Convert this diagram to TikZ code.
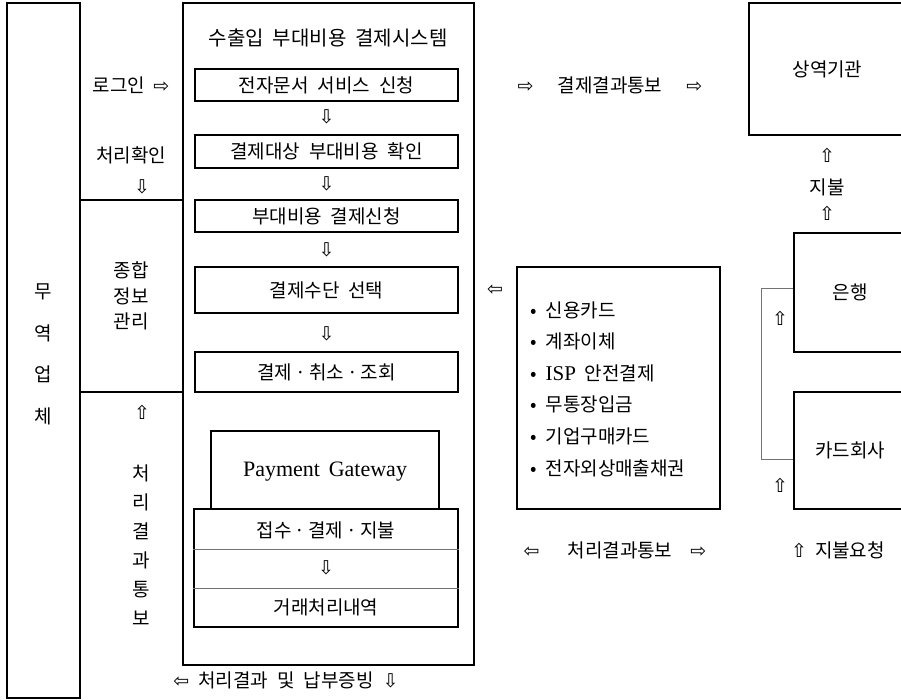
\documentclass[tikz,border=0pt]{standalone}
\usepackage{fontspec}
\setmainfont[WordSpace=2.1]{Noto Sans CJK KR}
\newfontfamily\arr{DejaVu Sans}
\newfontfamily\lat[WordSpace=1.6]{Liberation Serif}
\newcommand{\AR}[1]{{\arr\fontsize{19}{20}\selectfont #1}}
\begin{document}
\begin{tikzpicture}[x=1pt,y=-1pt,
  box/.style={draw, line width=1.3pt, inner sep=0pt},
  thin/.style={draw=black!55, line width=0.7pt},
  txt/.style={inner sep=0pt, font=\fontsize{19}{22}\selectfont},
  vtxt/.style={inner sep=0pt, align=center},
]
\useasboundingbox (0,0) rectangle (901,700);
\clip (0,0) rectangle (901,700);
% main boxes
\node[box, minimum width=73pt, minimum height=695pt] (firm) at (43.5,350.5) {};
\node[box, minimum width=291pt, minimum height=662pt] (sys) at (328.5,334) {};
\node[txt, font=\fontsize{20}{22}\selectfont] (title) at (328,38) {수출입\hspace{9pt}부대비용\hspace{9pt}결제시스템};
\node[box, txt, minimum width=263pt, minimum height=32pt] (b1) at (326.5,85) {전자문서 서비스 신청};
\node[box, txt, minimum width=263pt, minimum height=33pt] (b2) at (326.5,151.5) {결제대상 부대비용 확인};
\node[box, txt, minimum width=263pt, minimum height=32pt] (b3) at (326.5,216) {부대비용 결제신청};
\node[box, txt, minimum width=263pt, minimum height=46pt] (b4) at (326.5,290) {결제수단 선택};
\node[box, txt, minimum width=263pt, minimum height=40pt] (b5) at (326.5,372) {결제{\,}·{\,}취소{\,}·{\,}조회};
\node[txt] (a1) at (326.5,117) {\AR{⇩}};
\node[txt] (a2) at (326.5,184) {\AR{⇩}};
\node[txt] (a3) at (326.5,250) {\AR{⇩}};
\node[txt] (a4) at (326.5,334) {\AR{⇩}};
% payment gateway
\node[box, minimum width=228pt, minimum height=78pt] (pg) at (325,470) {};
\node[inner sep=0pt, font=\lat\fontsize{22}{24}\selectfont] (pgt) at (325,472) {Payment Gateway};
\node[box, fill=white, minimum width=264pt, minimum height=118pt] (low) at (326,568) {};
\coordinate (l1) at (0,549);
\coordinate (l2) at (0,588);
\draw[thin] (low.west |- l1) -- (low.east |- l1);
\draw[thin] (low.west |- l2) -- (low.east |- l2);
\node[txt] (r1) at (326,530) {접수{\,}·{\,}결제{\,}·{\,}지불};
\node[txt] (r2) at (326,568) {\AR{⇩}};
\node[txt] (r3) at (326,607) {거래처리내역};
\node[txt] (bottom) at (286,680) {\AR{⇦}\hspace{9pt}처리결과\hspace{9pt}및\hspace{9pt}납부증빙\hspace{9pt}\AR{⇩}};
% middle column
\coordinate (h1) at (0,200);
\coordinate (h2) at (0,392);
\draw[line width=1.3pt] (firm.east |- h1) -- (sys.west |- h1);
\draw[line width=1.3pt] (firm.east |- h2) -- (sys.west |- h2);
\node[txt] (login) at (131,85) {로그인\hspace{8pt}\AR{⇨}};
\node[txt] (check) at (131,155) {처리확인};
\node[txt] (checka) at (142,187) {\AR{⇩}};
\node[txt, vtxt, font=\fontsize{19}{25.5}\selectfont] (info) at (131,296) {종합\\정보\\관리};
\node[txt] (upa) at (142,412) {\AR{⇧}};
\node[txt, vtxt, font=\fontsize{19}{29}\selectfont] (notice) at (141,545.5) {처\\리\\결\\과\\통\\보};
\node[txt, vtxt, font=\fontsize{19}{41.5}\selectfont] (firmt) at (43.5,354.5) {무\\역\\업\\체};
% right side
\node[txt] (res) at (610,85) {\AR{⇨}\hspace{24pt}결제결과통보\hspace{24pt}\AR{⇨}};
\node[box, txt, minimum width=157pt, minimum height=132pt] (trade) at (827.5,69) {상역기관};
\node[txt] (ua1) at (827,155) {\AR{⇧}};
\node[txt] (pay) at (827,187) {지불};
\node[txt] (ua2) at (827,213) {\AR{⇧}};
\node[box, txt, minimum width=112pt, minimum height=119pt] (bank) at (850,292.5) {은행};
\node[box, txt, minimum width=112pt, minimum height=117pt] (card) at (850,450.5) {카드회사};
\coordinate (k1) at (761,288);
\coordinate (k2) at (761,459);
\draw[thin] (bank.west |- k1) -- (k1) -- (k2) -- (card.west |- k2);
\node[txt] (ub1) at (780,318) {\AR{⇧}};
\node[txt] (ub2) at (780,485) {\AR{⇧}};
\node[txt] (req) at (838,550) {\AR{⇧}\hspace{8pt}지불요청};
\node[box, minimum width=203pt, minimum height=242pt] (meth) at (618.5,388) {};
\node[txt, align=left, anchor=west, font=\fontsize{19}{31.6}\selectfont] (list) at (530,389)
  {• 신용카드\\• 계좌이체\\• {\lat\fontsize{21}{22}\selectfont ISP} 안전결제\\• 무통장입금\\• 기업구매카드\\• 전자외상매출채권};
\node[txt] (la) at (495,290) {\AR{⇦}};
\node[txt] (res2) at (615,550) {\AR{⇦}\hspace{28pt}처리결과통보\hspace{18pt}\AR{⇨}};
\end{tikzpicture}
\end{document}
